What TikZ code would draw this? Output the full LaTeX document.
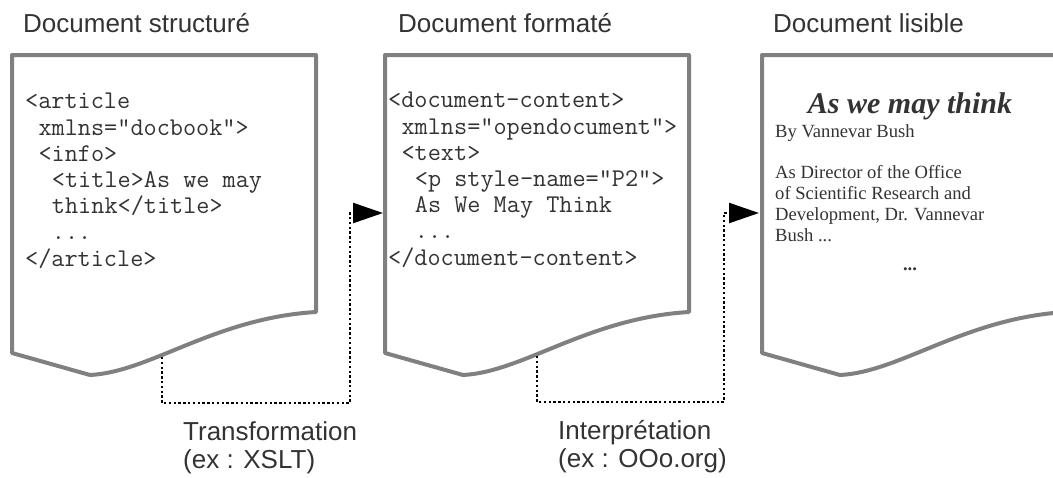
\documentclass[tikz,border=0pt]{standalone}
\usepackage{fontspec}
\setmainfont{Liberation Serif}
\setsansfont{Liberation Sans}
\usetikzlibrary{arrows.meta}
\newcommand\ind{\hspace*{0.525em}}

\tikzset{
  doc/.style={draw=black!50, line width=4pt, line join=round},
  docpage/.pic={
    \draw[doc] (0,0) -- (304,0) -- (304,257)
      .. controls (203,263) and (138,317) .. (78,320) -- (0,298) -- cycle;
  },
  heading/.style={anchor=base west, inner sep=0, text=black!80,
    font=\sffamily\fontsize{26}{28}\selectfont},
  caption/.style={heading, align=left},
  code/.style={anchor=base west, inner sep=0, align=left, text=black!80,
    font=\ttfamily\fontsize{25.5}{26.2}\selectfont},
  prose/.style={anchor=base west, inner sep=0, align=left, text=black!80,
    font=\rmfamily\fontsize{18.6}{21}\selectfont},
  link/.style={line width=2.4pt, dash pattern=on 2.4pt off 2.4pt,
    -{Triangle[length=30pt,width=20pt]}}
}

\begin{document}
\begin{tikzpicture}[x=1pt, y=-1pt]
    \clip (0,0) rectangle (1053,477);

    % the three pages
    \foreach \dx in {12,385,762}
        \pic at (\dx,55) {docpage};

    \node[heading] (t1) at (23,32) {Document structuré};
    \node[heading] (t2) at (398,32) {Document formaté};
    \node[heading] (t3) at (773,32) {Document lisible};

    % multi-line nodes sit on the baseline of their last line
    \node[code] (src) at (25,266) {<article\\
        \ind xmlns="docbook">\\
        \ind <info>\\
        \ind\ind <title>As we may\\
        \ind\ind think</title>\\
        \ind\ind ...\\
        </article>};

    \node[code] (fmt) at (388,265) {<document-content>\\
        \ind xmlns="opendocument">\\
        \ind <text>\\
        \ind\ind <p style-name="P2">\\
        \ind\ind As We May Think\\
        \ind\ind ...\\
        </document-content>};

    \node[anchor=base, inner sep=0, text=black!80,
        font=\rmfamily\bfseries\itshape\fontsize{30}{32}\selectfont]
        (head) at (910,113) {As we may think};
    \node[prose] (auth) at (775,137) {By Vannevar Bush};
    \node[prose] (body) at (775,241) {\frenchspacing As Director of the Office\\
        of Scientific Research and\\
        Development, Dr. Vannevar\\
        Bush ...};
    \node[anchor=base, inner sep=0, text=black!80,
        font=\rmfamily\bfseries\fontsize{18.6}{21}\selectfont]
        (more) at (910,270) {...};

    % connectors
    \coordinate (s1) at (162,357);
    \coordinate (e1) at (383,213);
    \coordinate (s2) at (537,356);
    \coordinate (e2) at (759,213);

    \draw[link] (s1) |- ++(188,46) |- (e1);
    \draw[link] (s2) |- ++(187,46) |- (e2);

    \node[caption] (xslt) at (183,468) {Transformation\\(ex : XSLT)};
    \node[caption] (ooo) at (558,467) {Interprétation\\(ex : OOo.org)};
\end{tikzpicture}
\end{document}
